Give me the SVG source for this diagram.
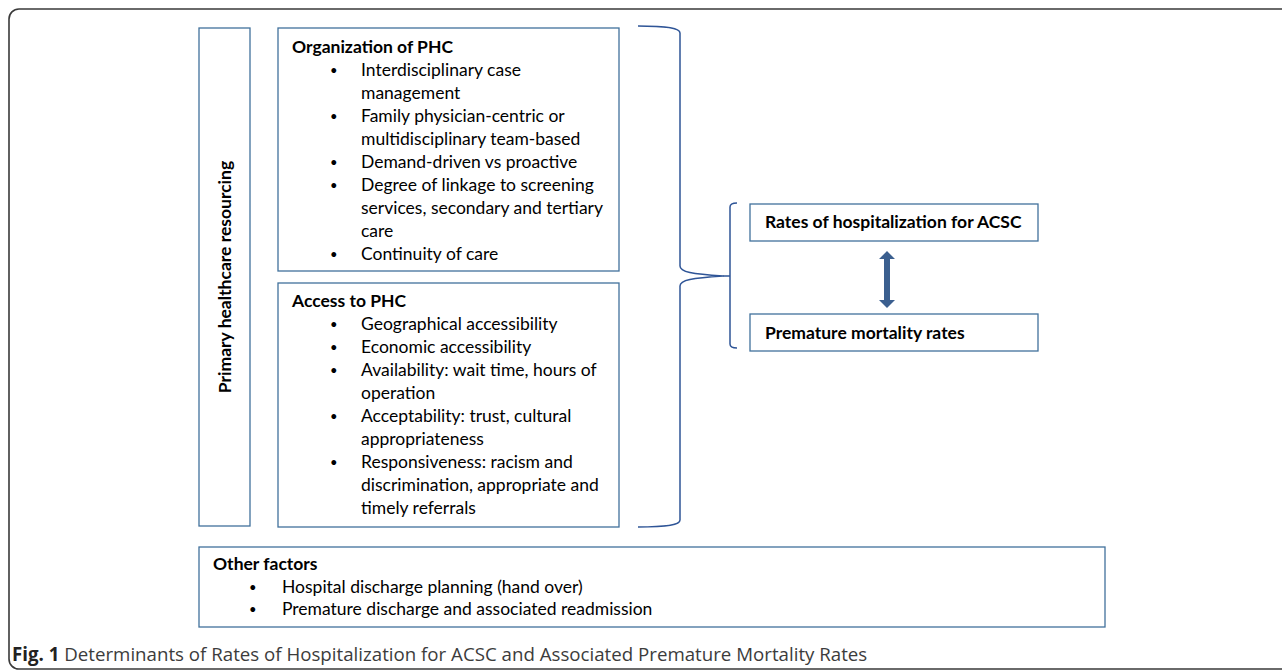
<svg xmlns="http://www.w3.org/2000/svg" width="1282" height="672" viewBox="0 0 1282 672">
  <style>
    .box { fill: #ffffff; stroke: #41719c; stroke-width: 1.3; }
    .brace { fill: none; stroke: #2f5597; stroke-width: 1.5; stroke-linejoin: round; }
    text { font-family: Lato, "Liberation Sans", sans-serif; fill: #000000; }
    .t { font-size: 17.5px; }
    .b { font-size: 17.5px; font-weight: bold; }
    .dot { font-family: "Liberation Sans", sans-serif; font-size: 13px; }
    .cap { font-family: "Open Sans", "Liberation Sans", sans-serif; font-size: 18.7px; fill: #3c3c3c; }
    .capb { font-weight: bold; fill: #222222; }
  </style>

  <!-- figure frame -->
  <rect x="9" y="9" width="1300" height="660" rx="10" ry="10" fill="none" stroke="#3a3a3a" stroke-width="1.6"/>

  <!-- resourcing side label -->
  <g id="resourcing">
    <rect class="box" x="199" y="28" width="51" height="498"/>
    <text class="b" text-anchor="middle" transform="translate(231,277) rotate(-90)">Primary healthcare resourcing</text>
  </g>

  <!-- organization of primary health care -->
  <g id="organization">
    <rect class="box" x="278" y="28" width="341" height="243"/>
    <text class="b" x="292" y="53">Organization of PHC</text>
    <g class="dot">
      <text x="330" y="75">•</text>
      <text x="330" y="121">•</text>
      <text x="330" y="167">•</text>
      <text x="330" y="190">•</text>
      <text x="330" y="259">•</text>
    </g>
    <g class="t">
      <text x="361" y="76">Interdisciplinary case</text>
      <text x="361" y="99">management</text>
      <text x="361" y="122">Family physician-centric or</text>
      <text x="361" y="145">multidisciplinary team-based</text>
      <text x="361" y="168">Demand-driven vs proactive</text>
      <text x="361" y="191">Degree of linkage to screening</text>
      <text x="361" y="214">services, secondary and tertiary</text>
      <text x="361" y="237">care</text>
      <text x="361" y="260">Continuity of care</text>
    </g>
  </g>

  <!-- access to primary health care -->
  <g id="access">
    <rect class="box" x="278" y="283" width="341" height="244"/>
    <text class="b" x="292" y="307">Access to PHC</text>
    <g class="dot">
      <text x="330" y="329">•</text>
      <text x="330" y="352">•</text>
      <text x="330" y="375">•</text>
      <text x="330" y="421">•</text>
      <text x="330" y="467">•</text>
    </g>
    <g class="t">
      <text x="361" y="330">Geographical accessibility</text>
      <text x="361" y="353">Economic accessibility</text>
      <text x="361" y="376">Availability: wait time, hours of</text>
      <text x="361" y="399">operation</text>
      <text x="361" y="422">Acceptability: trust, cultural</text>
      <text x="361" y="445">appropriateness</text>
      <text x="361" y="468">Responsiveness: racism and</text>
      <text x="361" y="491">discrimination, appropriate and</text>
      <text x="361" y="514">timely referrals</text>
    </g>
  </g>

  <!-- outcomes -->
  <g id="hospitalization">
    <rect class="box" x="750" y="204" width="288" height="37"/>
    <text class="b" x="765" y="228">Rates of hospitalization for ACSC</text>
  </g>
  <g id="mortality">
    <rect class="box" x="750" y="314" width="288" height="37"/>
    <text class="b" x="765" y="339">Premature mortality rates</text>
  </g>

  <!-- other factors -->
  <g id="other-factors">
    <rect class="box" x="199" y="547" width="906" height="80"/>
    <text class="b" x="213" y="570">Other factors</text>
    <g class="dot">
      <text x="249" y="592">•</text>
      <text x="249" y="614">•</text>
    </g>
    <g class="t">
      <text x="282" y="593">Hospital discharge planning (hand over)</text>
      <text x="282" y="615">Premature discharge and associated readmission</text>
    </g>
  </g>

  <!-- connectors: grouping braces and two-way link -->
  <g id="connectors">
    <path class="brace" d="M638,26 C668,26 680,28 680,33 L680,266 C680,272 692,274 723,276 C692,278 680,280 680,286 L680,520 C680,525 668,527 638,527"/>
    <path class="brace" d="M737,203 C732,203 730,204 730,207 L730,344 C730,347 732,348 737,348 M723,276 L730,276"/>
    <polygon fill="#3b5f8f" points="887,251 895,259 890,259 890,300 895,300 887,308 879,300 884,300 884,259 879,259"/>
  </g>

  <!-- caption -->
  <text class="cap" x="12" y="661"><tspan class="capb">Fig. 1</tspan> Determinants of Rates of Hospitalization for ACSC and Associated Premature Mortality Rates</text>
</svg>
